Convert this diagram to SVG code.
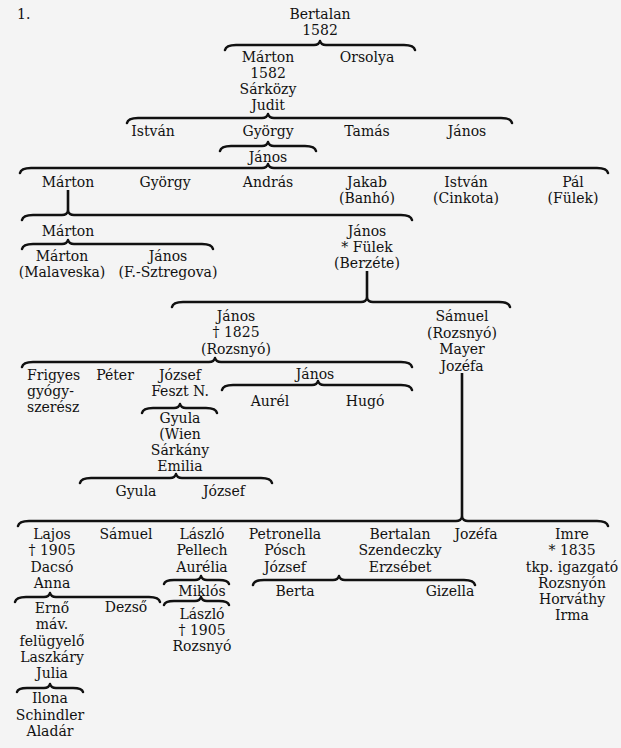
<svg xmlns="http://www.w3.org/2000/svg" width="621" height="748" viewBox="0 0 621 748">
<style>
text{font-family:"DejaVu Serif","Liberation Serif",serif;font-size:14px;fill:#111;text-anchor:middle}
.l{text-anchor:start}
.br{fill:none;stroke:#111;stroke-width:2.5;stroke-linecap:round;stroke-linejoin:round}
.v{stroke:#111;stroke-width:2.6}
</style>
<rect width="621" height="748" fill="#f4f4f4"/>
<g id="connectors">
<path class="br" d="M225,50 Q226,45 236,45 L314,45 Q319,45 320,41 Q321,45 326,45 L404,45 Q414,45 415,50"/>
<path class="br" d="M127,123 Q128,118 138,118 L262,118 Q267,118 268,114 Q269,118 274,118 L501,118 Q511,118 512,123"/>
<path class="br" d="M220,151 Q221,146 231,146 L262,146 Q267,146 268,142 Q269,146 274,146 L305,146 Q315,146 316,151"/>
<path class="br" d="M20,173 Q21,168 31,168 L262,168 Q267,168 268,164 Q269,168 274,168 L597,168 Q607,168 608,173"/>
<path class="br" d="M22,220 Q23,215 33,215 L62,215 Q67,215 68,211 Q69,215 74,215 L401,215 Q411,215 412,220"/>
<path class="br" d="M22,249 Q23,244 33,244 L62,244 Q67,244 68,240 Q69,244 74,244 L202,244 Q212,244 213,249"/>
<path class="br" d="M172,307 Q173,302 183,302 L361,302 Q366,302 367,298 Q368,302 373,302 L499,302 Q509,302 510,307"/>
<path class="br" d="M22,367 Q23,362 33,362 L209,362 Q214,362 215,358 Q216,362 221,362 L401,362 Q411,362 412,367"/>
<path class="br" d="M222,390 Q223,385 233,385 L312,385 Q317,385 318,381 Q319,385 324,385 L401,385 Q411,385 412,390"/>
<path class="br" d="M142,413 Q143,408 153,408 L174,408 Q179,408 180,404 Q181,408 186,408 L206,408 Q216,408 217,413"/>
<path class="br" d="M80,483 Q81,478 91,478 L170,478 Q175,478 176,474 Q177,478 182,478 L261,478 Q271,478 272,483"/>
<path class="br" d="M18,526 Q19,521 29,521 L456,521 Q461,521 462,517 Q463,521 468,521 L597,521 Q607,521 608,526"/>
<path class="br" d="M164,584 Q165,580 174,580 L195,580 Q200,580 201,576 Q202,580 207,580 L219,580 Q228,580 229,584"/>
<path class="br" d="M164,605 Q165,601 174,601 L195,601 Q200,601 201,597 Q202,601 207,601 L219,601 Q228,601 229,605"/>
<path class="br" d="M253,585 Q254,580 264,580 L333,580 Q338,580 339,576 Q340,580 345,580 L464,580 Q474,580 475,585"/>
<path class="br" d="M15,602 Q16,597 26,597 L44,597 Q49,597 50,593 Q51,597 56,597 L149,597 Q159,597 160,602"/>
<path class="br" d="M17,692 Q18,688 27,688 L44,688 Q49,688 50,684 Q51,688 56,688 L73,688 Q82,688 83,692"/>
<line class="v" x1="68" y1="190" x2="68" y2="211"/>
<line class="v" x1="367" y1="271" x2="367" y2="298"/>
<line class="v" x1="462" y1="373" x2="462" y2="517"/>
</g>
<g id="label1"><text class="l" x="17" y="19">1.</text></g>
<g id="n_bertalan"><text x="320" y="19">Bertalan</text><text x="320" y="35">1582</text></g>
<g id="n_marton1"><text x="268" y="62">Márton</text><text x="268" y="78">1582</text><text x="268" y="94">Sárközy</text><text x="268" y="110">Judit</text></g>
<g id="n_orsolya"><text x="367" y="62">Orsolya</text></g>
<g id="n_istvan1"><text x="153" y="136">István</text></g>
<g id="n_gyorgy1"><text x="268" y="136">György</text></g>
<g id="n_tamas"><text x="367" y="136">Tamás</text></g>
<g id="n_janos1"><text x="467" y="136">János</text></g>
<g id="n_janos2"><text x="268" y="162">János</text></g>
<g id="n_marton2"><text x="68" y="187">Márton</text></g>
<g id="n_gyorgy2"><text x="165" y="187">György</text></g>
<g id="n_andras"><text x="268" y="187">András</text></g>
<g id="n_jakab"><text x="367" y="187">Jakab</text><text x="367" y="203">(Banhó)</text></g>
<g id="n_istvan2"><text x="466" y="187">István</text><text x="466" y="203">(Cinkota)</text></g>
<g id="n_pal"><text x="573" y="187">Pál</text><text x="573" y="203">(Fülek)</text></g>
<g id="n_marton3"><text x="68" y="236">Márton</text></g>
<g id="n_janos3"><text x="367" y="236">János</text><text x="367" y="252">* Fülek</text><text x="367" y="268">(Berzéte)</text></g>
<g id="n_marton4"><text x="62" y="261">Márton</text><text x="62" y="277">(Malaveska)</text></g>
<g id="n_janos4"><text x="168" y="261">János</text><text x="168" y="277">(F.-Sztregova)</text></g>
<g id="n_janos5"><text x="236" y="321">János</text><text x="236" y="337">† 1825</text><text x="236" y="354">(Rozsnyó)</text></g>
<g id="n_samuel1"><text x="462" y="321">Sámuel</text><text x="462" y="338">(Rozsnyó)</text><text x="462" y="354">Mayer</text><text x="462" y="371">Jozéfa</text></g>
<g id="n_frigyes"><text class="l" x="27" y="380">Frigyes</text><text class="l" x="27" y="396">gyógy-</text><text class="l" x="27" y="412">szerész</text></g>
<g id="n_peter"><text x="115" y="380">Péter</text></g>
<g id="n_jozsef1"><text x="180" y="380">József</text><text x="180" y="396">Feszt N.</text></g>
<g id="n_janos6"><text x="315" y="379">János</text></g>
<g id="n_aurel"><text x="270" y="406">Aurél</text></g>
<g id="n_hugo"><text x="365" y="406">Hugó</text></g>
<g id="n_gyula1"><text x="180" y="423">Gyula</text><text x="180" y="439">(Wien</text><text x="180" y="455">Sárkány</text><text x="180" y="471">Emilia</text></g>
<g id="n_gyula2"><text x="136" y="496">Gyula</text></g>
<g id="n_jozsef2"><text x="224" y="496">József</text></g>
<g id="n_lajos"><text x="52" y="539">Lajos</text><text x="52" y="555">† 1905</text><text x="52" y="572">Dacsó</text><text x="52" y="588">Anna</text></g>
<g id="n_samuel2"><text x="126" y="539">Sámuel</text></g>
<g id="n_laszlo1"><text x="202" y="539">László</text><text x="202" y="555">Pellech</text><text x="202" y="572">Aurélia</text></g>
<g id="n_petronella"><text x="285" y="539">Petronella</text><text x="285" y="555">Pósch</text><text x="285" y="572">József</text></g>
<g id="n_bertalan2"><text x="400" y="539">Bertalan</text><text x="400" y="555">Szendeczky</text><text x="400" y="572">Erzsébet</text></g>
<g id="n_jozefa"><text x="476" y="539">Jozéfa</text></g>
<g id="n_imre"><text x="572" y="539">Imre</text><text x="572" y="555">* 1835</text><text x="572" y="572">tkp. igazgató</text><text x="572" y="588">Rozsnyón</text><text x="572" y="604">Horváthy</text><text x="572" y="620">Irma</text></g>
<g id="n_miklos"><text x="202" y="596">Miklós</text></g>
<g id="n_laszlo2"><text x="202" y="619">László</text><text x="202" y="635">† 1905</text><text x="202" y="651">Rozsnyó</text></g>
<g id="n_berta"><text x="295" y="596">Berta</text></g>
<g id="n_gizella"><text x="450" y="596">Gizella</text></g>
<g id="n_erno"><text x="52" y="613">Ernő</text><text x="52" y="629">máv.</text><text x="52" y="646">felügyelő</text><text x="52" y="662">Laszkáry</text><text x="52" y="678">Julia</text></g>
<g id="n_dezso"><text x="126" y="612">Dezső</text></g>
<g id="n_ilona"><text x="50" y="703">Ilona</text><text x="50" y="720">Schindler</text><text x="50" y="736">Aladár</text></g>
</svg>
